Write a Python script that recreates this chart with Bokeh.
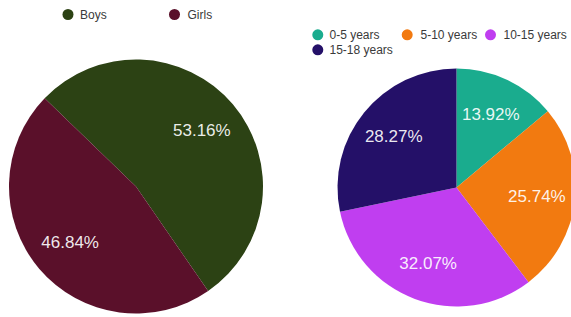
import numpy as np
from bokeh.plotting import figure
from bokeh.models import Range1d
from bokeh.core.properties import value
from bokeh.embed import file_html
from bokeh.resources import INLINE

# ---- data ----
gender_labels = ["Boys", "Girls"]
gender_pct = [53.16, 46.84]
gender_colors = ["#2c4214", "#5a102a"]

age_labels = ["0-5 years", "5-10 years", "10-15 years", "15-18 years"]
age_pct = [13.92, 25.74, 32.07, 28.27]
age_colors = ["#1aac8e", "#f27a10", "#c03ef0", "#241068"]

W, H = 571, 317
FONT = "Liberation Sans"

p = figure(width=W, height=H, x_range=Range1d(0, W), y_range=Range1d(0, H),
           output_backend="svg", toolbar_location=None, min_border=0)
p.axis.visible = False
p.grid.visible = False
p.outline_line_color = None
p.background_fill_color = "white"


def px(X, Y):
    """page pixel -> data coords"""
    return X, H - Y


def pie(cX, cY, r, pcts, colors, start_deg):
    cx, cy = px(cX, cY)
    fr = np.array(pcts, dtype=float) / sum(pcts)
    cum = np.concatenate([[0.0], np.cumsum(fr)]) * 360.0 + start_deg
    starts = np.radians(90.0 - cum[:-1])
    ends = np.radians(90.0 - cum[1:])
    p.wedge(x=[cx] * len(pcts), y=[cy] * len(pcts), radius=r,
            start_angle=list(starts), end_angle=list(ends), direction="clock",
            fill_color=colors, line_color=None)
    mids = np.radians((cum[:-1] + cum[1:]) / 2.0)
    lr = 0.68 * r
    lx = cx + lr * np.sin(mids)
    ly = cy + lr * np.cos(mids)
    p.text(x=list(lx), y=list(ly), text=[f"{v:.2f}%" for v in pcts],
           text_font=value(FONT), text_font_size="17px", text_color="white",
           text_alpha=0.92, text_align="center", text_baseline="middle")


def legend(items, colors, positions):
    xs, ys, txs, tys = [], [], [], []
    for (dX, dY, tX) in positions:
        x, y = px(dX, dY)
        xs.append(x); ys.append(y)
        tx, _ = px(tX, dY)
        txs.append(tx); tys.append(y)
    p.scatter(x=xs, y=ys, size=11, marker="circle", fill_color=colors, line_color=None)
    p.text(x=txs, y=tys, text=items, text_font=value(FONT), text_font_size="12px",
           text_color="#3a3a3a", text_align="left", text_baseline="middle")


pie(135.5, 186, 127, gender_pct, gender_colors, -46)
pie(456, 187, 119, age_pct, age_colors, 0)

legend(gender_labels, gender_colors, [(67.5, 14, 79.5), (174, 14, 187)])
legend(age_labels, age_colors, [(317.3, 34.3, 329), (406.7, 34.3, 420),
                                (490, 34.3, 503), (317.3, 49.3, 329)])

open("out.html", "w").write(file_html(p, INLINE))
